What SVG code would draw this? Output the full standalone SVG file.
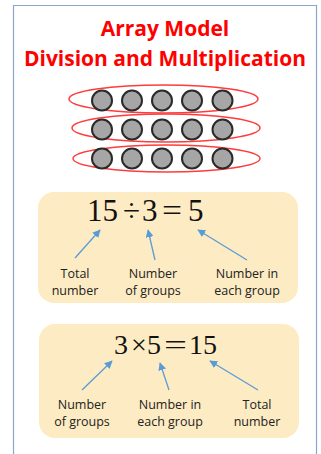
<svg xmlns="http://www.w3.org/2000/svg" width="321" height="454" viewBox="0 0 321 454">
<defs>
<style>
.title{font-family:"Open Sans","Liberation Sans",sans-serif;font-weight:bold;font-size:21px;fill:#ff0000;text-anchor:middle}
.ell{fill:none;stroke:#ff3b3b;stroke-width:1.5}
.dot{fill:#a6a6a6;stroke:#2a2a2a;stroke-width:2}
.box{fill:#fdecc3}
.eq{font-family:"Liberation Serif","Times New Roman",serif;fill:#111}
.lbl{font-family:"Open Sans","Liberation Sans",sans-serif;font-size:12.5px;fill:#222;text-anchor:middle}
.arr{stroke:#5b9bd5;stroke-width:1.3;fill:none;marker-end:url(#ah)}
</style>
<marker id="ah" viewBox="0 0 10 10" refX="9" refY="5" markerWidth="8" markerHeight="8" markerUnits="userSpaceOnUse" orient="auto">
<path d="M0,0 L10,5 L0,10 z" fill="#5b9bd5"/>
</marker>
</defs>
<rect x="0" y="0" width="321" height="454" fill="#ffffff"/>
<path d="M13.5,460 V5.5 H316.5 V460" fill="none" stroke="#8aa6cf" stroke-width="1.2"/>
<g id="title">
<text class="title" x="165" y="36">Array Model</text>
<text class="title" x="165" y="66">Division and Multiplication</text>
</g>
<g id="array">
<ellipse class="ell" cx="163.5" cy="99" rx="94.5" ry="14"/>
<ellipse class="ell" cx="166" cy="128" rx="94" ry="14"/>
<ellipse class="ell" cx="166.5" cy="158.5" rx="93.5" ry="13.5"/>
<g>
<circle class="dot" cx="102" cy="100.5" r="10"/><circle class="dot" cx="132" cy="100.5" r="10"/><circle class="dot" cx="162" cy="100.5" r="10"/><circle class="dot" cx="192" cy="100.5" r="10"/><circle class="dot" cx="222.5" cy="100.5" r="10"/>
<circle class="dot" cx="102" cy="129.5" r="10"/><circle class="dot" cx="132" cy="129.5" r="10"/><circle class="dot" cx="162" cy="129.5" r="10"/><circle class="dot" cx="192" cy="129.5" r="10"/><circle class="dot" cx="222.5" cy="129.5" r="10"/>
<circle class="dot" cx="102" cy="158.5" r="10"/><circle class="dot" cx="132" cy="158.5" r="10"/><circle class="dot" cx="162" cy="158.5" r="10"/><circle class="dot" cx="192" cy="158.5" r="10"/><circle class="dot" cx="222.5" cy="158.5" r="10"/>
</g>
</g>
<g id="division">
<rect class="box" x="38" y="192" width="260" height="111" rx="16"/>
<text class="eq" font-size="31" x="87" y="221">15</text>
<text class="eq" font-size="31" x="123" y="221">÷</text>
<text class="eq" font-size="31" x="142" y="221">3</text>
<text class="eq" font-size="31" x="162" y="221" textLength="20" lengthAdjust="spacingAndGlyphs">=</text>
<text class="eq" font-size="31" x="188" y="221">5</text>
<text class="lbl"><tspan x="75" y="278">Total</tspan><tspan x="75" y="295">number</tspan></text>
<text class="lbl"><tspan x="153" y="278">Number</tspan><tspan x="153" y="295">of groups</tspan></text>
<text class="lbl"><tspan x="247" y="278">Number in</tspan><tspan x="247" y="295">each group</tspan></text>
</g>
<g id="multiplication">
<rect class="box" x="39" y="324" width="260" height="114" rx="16"/>
<text class="eq" font-size="28" x="114" y="354">3</text>
<text class="eq" font-size="28" x="131" y="354">×</text>
<text class="eq" font-size="28" x="147" y="354">5</text>
<text class="eq" font-size="28" x="164" y="354" textLength="23" lengthAdjust="spacingAndGlyphs">=</text>
<text class="eq" font-size="28" x="189" y="354">15</text>
<text class="lbl"><tspan x="82" y="409">Number</tspan><tspan x="82" y="426">of groups</tspan></text>
<text class="lbl"><tspan x="170" y="409">Number in</tspan><tspan x="170" y="426">each group</tspan></text>
<text class="lbl"><tspan x="257" y="409">Total</tspan><tspan x="257" y="426">number</tspan></text>
</g>
<g id="connectors">
<line class="arr" x1="75" y1="258" x2="100" y2="230"/>
<line class="arr" x1="155" y1="260" x2="148" y2="230"/>
<line class="arr" x1="247" y1="260" x2="198" y2="230"/>
<line class="arr" x1="82" y1="390" x2="112" y2="361"/>
<line class="arr" x1="169" y1="390" x2="160" y2="363"/>
<line class="arr" x1="258" y1="390" x2="210" y2="361"/>
</g>
</svg>
